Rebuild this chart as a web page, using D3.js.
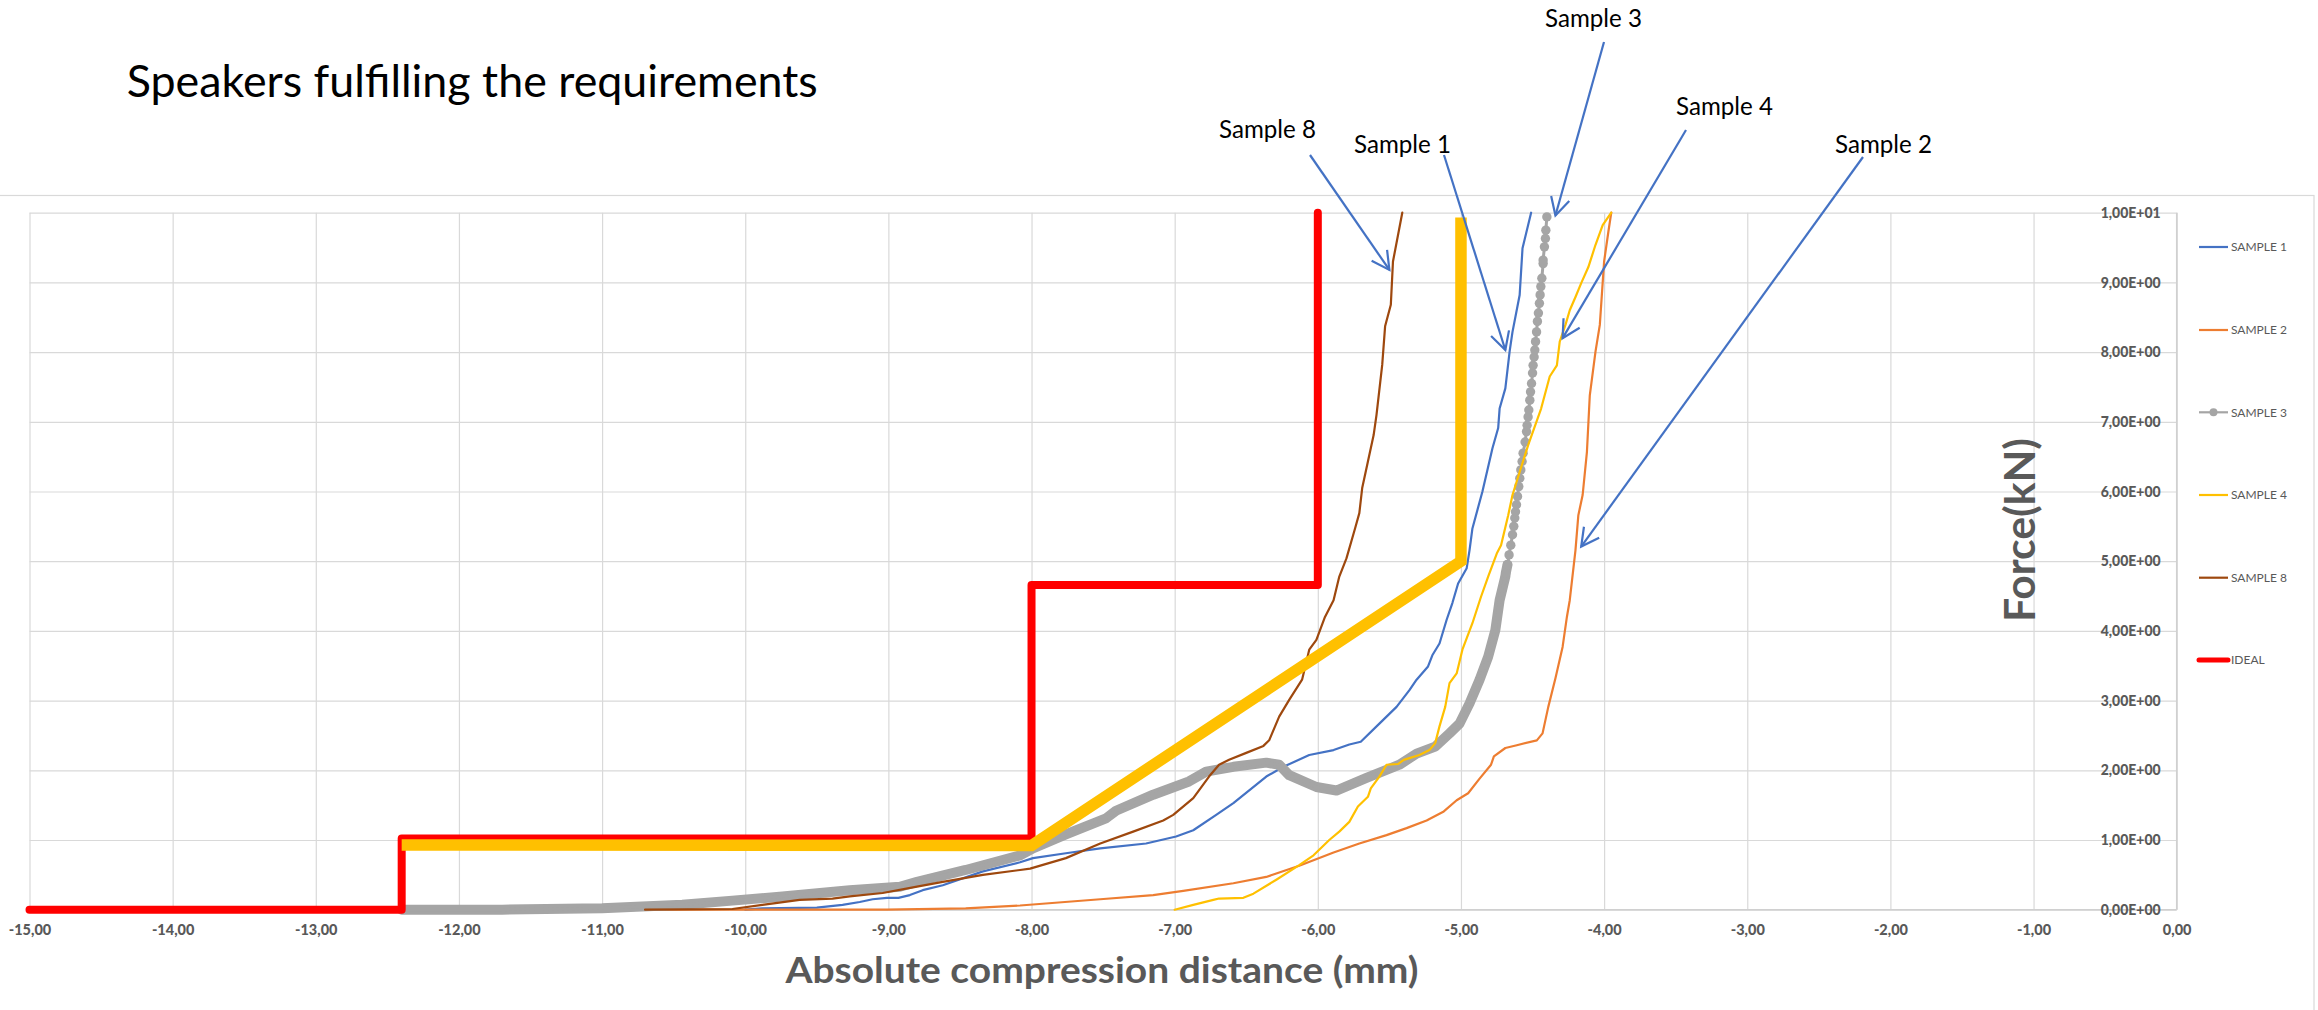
<!DOCTYPE html>
<html><head><meta charset="utf-8">
<script src="https://cdnjs.cloudflare.com/ajax/libs/d3/7.8.5/d3.min.js"></script>
<style>
html,body{margin:0;padding:0;background:#fff;}
svg{display:block;font-family:Lato,"Open Sans",sans-serif;}
</style></head><body>
<svg id="chart" width="2318" height="1010"></svg>
<script>
// ---------- DATA ----------
const xTickValues = [-15,-14,-13,-12,-11,-10,-9,-8,-7,-6,-5,-4,-3,-2,-1,0];
const xTickLabels = ["-15,00","-14,00","-13,00","-12,00","-11,00","-10,00","-9,00","-8,00","-7,00","-6,00","-5,00","-4,00","-3,00","-2,00","-1,00","0,00"];
const yTickValues = [0,1,2,3,4,5,6,7,8,9,10];
const yTickLabels = ["0,00E+00","1,00E+00","2,00E+00","3,00E+00","4,00E+00","5,00E+00","6,00E+00","7,00E+00","8,00E+00","9,00E+00","1,00E+01"];
const legendNames = ["SAMPLE 1","SAMPLE 2","SAMPLE 3","SAMPLE 4","SAMPLE 8","IDEAL"];

const sample1 = [[-10.0,0.0],[-9.88,0.02],[-9.50,0.03],[-9.32,0.07],[-9.20,0.11],[-9.11,0.15],[-9.01,0.17],[-8.93,0.17],[-8.85,0.21],[-8.76,0.28],[-8.62,0.35],[-8.34,0.55],[-8.08,0.68],[-7.99,0.74],[-7.76,0.81],[-7.52,0.88],[-7.20,0.95],[-6.99,1.05],[-6.87,1.14],[-6.71,1.36],[-6.59,1.53],[-6.36,1.91],[-6.24,2.05],[-6.06,2.22],[-5.89,2.29],[-5.78,2.37],[-5.70,2.41],[-5.57,2.67],[-5.45,2.91],[-5.36,3.15],[-5.31,3.30],[-5.23,3.49],[-5.20,3.65],[-5.15,3.82],[-5.10,4.16],[-5.06,4.40],[-5.02,4.68],[-4.96,4.90],[-4.94,5.16],[-4.92,5.47],[-4.85,6.0],[-4.78,6.62],[-4.74,6.91],[-4.73,7.19],[-4.69,7.48],[-4.66,8.01],[-4.64,8.29],[-4.59,8.82],[-4.57,9.49],[-4.51,10.0]];

const sample2 = [[-10.70,0.0],[-9.01,0.0],[-8.46,0.02],[-8.08,0.06],[-7.52,0.15],[-7.15,0.21],[-6.94,0.27],[-6.59,0.38],[-6.36,0.47],[-6.13,0.63],[-5.89,0.82],[-5.71,0.95],[-5.52,1.07],[-5.38,1.17],[-5.24,1.28],[-5.12,1.41],[-5.03,1.57],[-4.95,1.67],[-4.87,1.88],[-4.79,2.08],[-4.77,2.20],[-4.69,2.32],[-4.61,2.36],[-4.47,2.43],[-4.43,2.53],[-4.39,2.91],[-4.34,3.32],[-4.29,3.77],[-4.26,4.20],[-4.24,4.44],[-4.20,5.16],[-4.18,5.66],[-4.15,5.95],[-4.12,6.57],[-4.10,7.38],[-4.06,8.01],[-4.03,8.39],[-4.00,9.30],[-3.97,9.73],[-3.95,10.0]];

const sample3 = [[-12.4,0.0],[-11.7,0.0],[-11.0,0.02],[-10.44,0.07],[-10.09,0.13],[-9.74,0.19],[-9.27,0.28],[-8.92,0.33],[-8.80,0.40],[-8.46,0.57],[-8.08,0.78],[-7.99,0.88],[-7.76,1.08],[-7.48,1.31],[-7.41,1.42],[-7.15,1.65],[-6.90,1.84],[-6.78,1.98],[-6.59,2.05],[-6.36,2.11],[-6.27,2.08],[-6.20,1.93],[-6.01,1.76],[-5.87,1.71],[-5.66,1.89],[-5.43,2.08],[-5.31,2.24],[-5.18,2.34],[-5.08,2.53],[-5.01,2.67],[-4.94,2.96],[-4.87,3.30],[-4.81,3.63],[-4.76,4.01],[-4.73,4.44],[-4.69,4.78],
 [-4.687,4.83],[-4.675,4.95],[-4.664,5.09],[-4.652,5.23],[-4.640,5.38],[-4.631,5.50],[-4.624,5.62],[-4.619,5.71],[-4.612,5.81],[-4.605,5.93],[-4.596,6.07],[-4.589,6.19],[-4.582,6.31],[-4.573,6.43],[-4.566,6.55],[-4.552,6.71],[-4.542,6.86],[-4.538,6.95],[-4.531,7.07],[-4.526,7.17],[-4.519,7.31],[-4.514,7.43],[-4.507,7.55],[-4.500,7.70],[-4.496,7.81],[-4.489,7.93],[-4.484,8.03],[-4.479,8.15],[-4.472,8.29],[-4.466,8.44],[-4.459,8.56],[-4.452,8.70],[-4.447,8.82],[-4.442,8.94],[-4.435,9.06],[-4.426,9.27],[-4.426,9.32],[-4.417,9.51],[-4.410,9.63],[-4.407,9.75],[-4.400,9.94]];

const sample4 = [[-7.0,0.0],[-6.87,0.07],[-6.73,0.14],[-6.69,0.16],[-6.52,0.17],[-6.45,0.23],[-6.29,0.43],[-6.13,0.64],[-6.03,0.78],[-5.92,1.0],[-5.85,1.12],[-5.78,1.26],[-5.72,1.48],[-5.65,1.62],[-5.63,1.74],[-5.57,1.91],[-5.52,2.08],[-5.44,2.09],[-5.40,2.15],[-5.29,2.22],[-5.22,2.29],[-5.18,2.39],[-5.15,2.63],[-5.11,2.91],[-5.08,3.25],[-5.03,3.39],[-4.99,3.73],[-4.92,4.11],[-4.86,4.49],[-4.81,4.78],[-4.75,5.11],[-4.72,5.23],[-4.67,5.66],[-4.64,5.95],[-4.59,6.28],[-4.53,6.67],[-4.44,7.19],[-4.38,7.65],[-4.33,7.81],[-4.31,8.15],[-4.27,8.39],[-4.24,8.60],[-4.20,8.79],[-4.16,8.99],[-4.11,9.22],[-4.06,9.54],[-4.01,9.82],[-3.95,10.0]];

const sample8 = [[-10.70,0.0],[-10.09,0.01],[-9.88,0.07],[-9.62,0.14],[-9.39,0.16],[-9.27,0.19],[-9.04,0.24],[-8.80,0.33],[-8.62,0.40],[-8.34,0.50],[-8.08,0.57],[-8.01,0.59],[-7.76,0.74],[-7.52,0.95],[-7.29,1.12],[-7.08,1.28],[-7.01,1.36],[-6.87,1.60],[-6.76,1.91],[-6.69,2.08],[-6.62,2.15],[-6.50,2.25],[-6.38,2.35],[-6.34,2.43],[-6.27,2.77],[-6.20,3.01],[-6.11,3.30],[-6.06,3.73],[-6.01,3.87],[-5.95,4.20],[-5.89,4.44],[-5.85,4.78],[-5.80,5.04],[-5.74,5.47],[-5.71,5.69],[-5.69,6.05],[-5.65,6.43],[-5.61,6.81],[-5.59,7.10],[-5.55,7.82],[-5.53,8.37],[-5.49,8.68],[-5.475,9.30],[-5.41,10.0]];

const ideal = [[-15,0],[-12.4,0],[-12.4,1.02],[-8.0,1.02],[-8.0,4.66],[-6.0,4.66],[-6.0,10]];
const limitLine = [[-12.4,0.93],[-8.0,0.92],[-5.0,5.0],[-5.0,9.93]];

const calloutLabels = ["Sample 8","Sample 1","Sample 3","Sample 4","Sample 2"];
const calloutTips = [[-5.50,9.18],[-4.69,8.03],[-4.34,9.96],[-4.29,8.20],[-4.16,5.21]];

// ---------- LAYOUT ----------
const L = {left:29.5, right:2176.7, top:212.7, bottom:909.7};
const calloutLayout = [
  {tx:1219, ty:138, sx:1310, sy:155},
  {tx:1354, ty:153, sx:1444, sy:155},
  {tx:1545, ty:27,  sx:1604, sy:42},
  {tx:1676, ty:115, sx:1686, sy:130},
  {tx:1835, ty:153, sx:1863, sy:157}
];
const colors = {s1:"#4472C4", s2:"#ED7D31", s3:"#A5A5A5", s4:"#FFC000", s8:"#9E480E", ideal:"#FF0000", limit:"#FFC000"};

const svg = d3.select("#chart");
const x = d3.scaleLinear().domain([-15,0]).range([L.left,L.right]);
const y = d3.scaleLinear().domain([0,10]).range([L.bottom,L.top]);
const line = d3.line().x(d=>x(d[0])).y(d=>y(d[1]));

// chart area border
svg.append("rect").attr("x",-2).attr("y",195.5).attr("width",2316).attr("height",900)
  .attr("fill","none").attr("stroke","#D9D9D9").attr("stroke-width",1.2);

// title
svg.append("text").attr("x",126.7).attr("y",96.7).attr("font-size",44).attr("fill","#000")
  .attr("textLength",691).attr("lengthAdjust","spacingAndGlyphs")
  .text("Speakers fulfilling the requirements");

// gridlines
svg.append("g").attr("transform",`translate(0,${L.bottom})`)
  .call(d3.axisBottom(x).tickValues(xTickValues).tickSize(-(L.bottom-L.top)).tickFormat(""))
  .call(g=>g.select(".domain").remove())
  .call(g=>g.selectAll("line").attr("stroke","#D9D9D9").attr("stroke-width",1.2));
svg.append("g").attr("transform",`translate(${L.right},0)`)
  .call(d3.axisLeft(y).tickValues(yTickValues).tickSize(L.right-L.left).tickFormat(""))
  .call(g=>g.select(".domain").remove())
  .call(g=>g.selectAll("line").attr("stroke","#D9D9D9").attr("stroke-width",1.2));
// axis lines
svg.append("line").attr("x1",L.left).attr("x2",L.right).attr("y1",y(0)).attr("y2",y(0)).attr("stroke","#D0D0D0").attr("stroke-width",1.5);
svg.append("line").attr("x1",x(0)).attr("x2",x(0)).attr("y1",L.top).attr("y2",L.bottom).attr("stroke","#D0D0D0").attr("stroke-width",1.5);

// x tick labels
svg.append("g").attr("transform",`translate(0,${L.bottom})`)
  .call(d3.axisBottom(x).tickValues(xTickValues).tickSize(0).tickPadding(15).tickFormat((d,i)=>xTickLabels[i]))
  .call(g=>g.select(".domain").remove())
  .call(g=>g.selectAll("text").attr("font-family","Lato").attr("font-weight","900").attr("font-size",14.5).attr("fill","#595959"));
// y tick labels (at x = 0, left side)
svg.append("g").attr("transform",`translate(${x(0)},0)`)
  .call(d3.axisLeft(y).tickValues(yTickValues).tickSize(0).tickPadding(16).tickFormat((d,i)=>yTickLabels[i]))
  .call(g=>g.select(".domain").remove())
  .call(g=>g.selectAll("text").attr("font-family","Lato").attr("font-weight","900").attr("font-size",14.5)
    .attr("textLength",60).attr("lengthAdjust","spacingAndGlyphs").attr("fill","#595959"));

// axis titles
svg.append("text").attr("x",1102).attr("y",983.3).attr("text-anchor","middle")
  .attr("font-size",37).attr("font-weight","bold").attr("fill","#595959")
  .attr("textLength",633).attr("lengthAdjust","spacingAndGlyphs")
  .text("Absolute compression distance (mm)");
svg.append("text").attr("transform","translate(2035,530) rotate(-90)").attr("text-anchor","middle")
  .attr("font-size",42).attr("font-weight","bold").attr("fill","#595959")
  .attr("textLength",184).attr("lengthAdjust","spacingAndGlyphs")
  .text("Force(kN)");

// series
const plot = svg.append("g");
function drawLine(data,color,w){
  plot.append("path").datum(data).attr("d",line).attr("fill","none").attr("stroke",color)
    .attr("stroke-width",w).attr("stroke-linejoin","round").attr("stroke-linecap","round");
}
drawLine(sample1,colors.s1,2.2);
drawLine(sample2,colors.s2,2.2);
// sample 3: dense part reads as a thick band, sparse top part shows markers
const s3dense = sample3.filter(d=>d[1]<=5.0);
const s3sparse = sample3.filter(d=>d[1]>=4.7);
drawLine(s3dense,colors.s3,10);
drawLine(sample3,colors.s3,3);
plot.append("g").selectAll("circle").data(s3sparse).join("circle")
  .attr("cx",d=>x(d[0])).attr("cy",d=>y(d[1])).attr("r",4.7).attr("fill",colors.s3);
drawLine(sample4,colors.s4,2.2);
drawLine(sample8,colors.s8,2.2);
drawLine(ideal,colors.ideal,8);
plot.append("path").datum(limitLine).attr("d",line).attr("fill","none").attr("stroke",colors.limit)
  .attr("stroke-width",11.5).attr("stroke-linejoin","miter").attr("stroke-linecap","butt");

// legend
const legendY = [247,330,412.3,495,577.7,660];
const legendColors = [colors.s1,colors.s2,colors.s3,colors.s4,colors.s8,colors.ideal];
const lg = svg.append("g");
legendNames.forEach((n,i)=>{
  const isIdeal = n==="IDEAL";
  lg.append("line").attr("x1",isIdeal?2199:2199).attr("x2",2228).attr("y1",legendY[i]).attr("y2",legendY[i])
    .attr("stroke",legendColors[i]).attr("stroke-width",isIdeal?5:2.2).attr("stroke-linecap",isIdeal?"round":"butt");
  if(n==="SAMPLE 3") lg.append("circle").attr("cx",2213.5).attr("cy",legendY[i]).attr("r",4).attr("fill",colors.s3);
  lg.append("text").attr("x",2231).attr("y",legendY[i]).attr("dy","0.36em")
    .attr("font-size",12).attr("fill","#595959").text(n);
});

// callouts
const cg = svg.append("g");
calloutLabels.forEach((lab,i)=>{
  const c = calloutLayout[i];
  const tip = [x(calloutTips[i][0]), y(calloutTips[i][1])];
  cg.append("text").attr("x",c.tx).attr("y",c.ty).attr("font-size",25).attr("fill","#000")
    .attr("textLength",97).attr("lengthAdjust","spacingAndGlyphs").text(lab);
  cg.append("line").attr("x1",c.sx).attr("y1",c.sy).attr("x2",tip[0]).attr("y2",tip[1])
    .attr("stroke","#4472C4").attr("stroke-width",2.2);
  const ang = Math.atan2(c.sy-tip[1], c.sx-tip[0]);
  const len = 20, spread = 28*Math.PI/180;
  const w1 = [tip[0]+len*Math.cos(ang+spread), tip[1]+len*Math.sin(ang+spread)];
  const w2 = [tip[0]+len*Math.cos(ang-spread), tip[1]+len*Math.sin(ang-spread)];
  cg.append("path").attr("d",`M${w1[0]},${w1[1]}L${tip[0]},${tip[1]}L${w2[0]},${w2[1]}`)
    .attr("fill","none").attr("stroke","#4472C4").attr("stroke-width",2.2).attr("stroke-linejoin","miter");
});
</script>
</body></html>
